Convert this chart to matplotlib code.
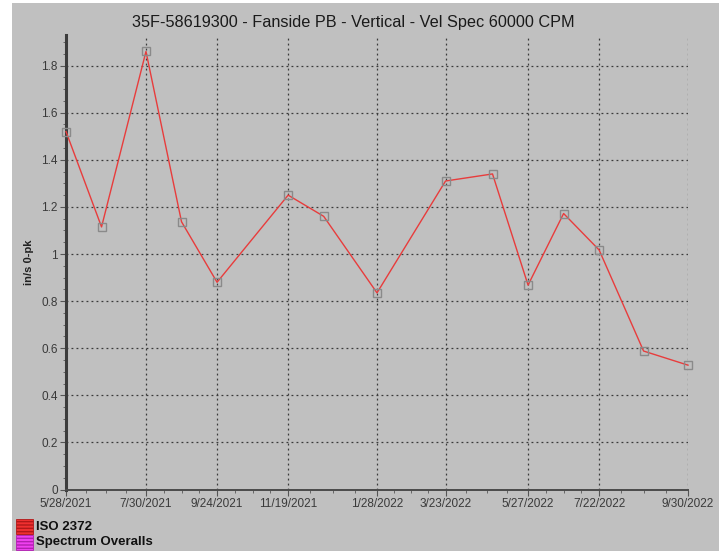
import matplotlib
matplotlib.use("Agg")
import matplotlib.pyplot as plt
import matplotlib.dates as mdates
from matplotlib.patches import Rectangle
import numpy as np

plt.rcParams['font.family'] = ['Liberation Sans', 'DejaVu Sans']
plt.rcParams['hatch.linewidth'] = 1.0

title = "35F-58619300 - Fanside PB - Vertical - Vel Spec 60000 CPM"
ylabel = "in/s 0-pk"

dates = ["2021-05-28", "2021-06-25", "2021-07-30", "2021-08-27", "2021-09-24",
         "2021-11-19", "2021-12-17", "2022-01-28", "2022-03-23", "2022-04-29",
         "2022-05-27", "2022-06-24", "2022-07-22", "2022-08-26", "2022-09-30"]
values = [1.52, 1.115, 1.86, 1.137, 0.88,
          1.25, 1.16, 0.835, 1.31, 1.34,
          0.868, 1.172, 1.017, 0.588, 0.528]

tick_dates = ["2021-05-28", "2021-07-30", "2021-09-24", "2021-11-19", "2022-01-28",
              "2022-03-23", "2022-05-27", "2022-07-22", "2022-09-30"]
tick_labels = ["5/28/2021", "7/30/2021", "9/24/2021", "11/19/2021", "1/28/2022",
               "3/23/2022", "5/27/2022", "7/22/2022", "9/30/2022"]

yticks = [0, 0.2, 0.4, 0.6, 0.8, 1.0, 1.2, 1.4, 1.6, 1.8]
ytick_labels = ["0", "0.2", "0.4", "0.6", "0.8", "1", "1.2", "1.4", "1.6", "1.8"]

legend_labels = ["ISO 2372", "Spectrum Overalls"]
legend_colors = ["#f03030", "#f040f0"]
legend_hatch_colors = ["#b01818", "#b020b0"]

bg = "#c0c0c0"
W, H = 719, 551
fig = plt.figure(figsize=(W / 100, H / 100), dpi=100, facecolor="white")
bgrect = Rectangle((12 / W, 0), 1 - 12 / W, 1 - 3 / H, transform=fig.transFigure,
                   facecolor=bg, edgecolor="none", zorder=-10)
fig.patches.append(bgrect)

ax = fig.add_axes([66 / W, (H - 489.5) / H, 622 / W, 454.5 / H])
ax.set_facecolor(bg)
ax.patch.set_alpha(0)

x = [mdates.datestr2num(d) for d in dates]
xt = [mdates.datestr2num(d) for d in tick_dates]

ax.plot(x, values, color="#e83c3c", lw=1.0, zorder=3, clip_on=False)
ax.plot(x, values, linestyle="none", marker="s", markersize=6, markerfacecolor="none",
        markeredgecolor="#8a8a8a", markeredgewidth=1.0, zorder=4, clip_on=False)

ax.set_xlim(xt[0], xt[-1])
ax.set_ylim(0, 1.93)

ax.set_xticks(xt)
ax.set_xticklabels(tick_labels)
minor = []
for a, b in zip(xt[:-1], xt[1:]):
    for k in (1, 2, 3):
        minor.append(a + (b - a) * k / 4)
ax.set_xticks(minor, minor=True)

ax.set_yticks(yticks)
ax.set_yticklabels(ytick_labels)
ax.set_yticks(np.arange(0, 1.93, 0.05), minor=True)

ax.grid(True, which="major", color="#3a3a3a", linestyle=(0, (1.5, 2.5)), linewidth=0.9)
ax.set_axisbelow(True)

for s in ["top", "right"]:
    ax.spines[s].set_visible(False)
ax.spines["left"].set_color("#3c3c3c")
ax.spines["left"].set_linewidth(2.2)
ax.spines["bottom"].set_color("#4a4a4a")
ax.spines["bottom"].set_linewidth(1.4)

ax.tick_params(axis="both", which="major", direction="out", length=4, width=0.8,
               color="#555555", labelsize=8.5, labelcolor="#3a3a3a", pad=2)
ax.tick_params(axis="both", which="minor", direction="out", length=2.5, width=0.7,
               color="#666666")

ax.set_ylabel(ylabel, fontsize=8, fontweight="bold", color="#202020", labelpad=5)

fig.text(353 / W, 1 - 22 / H, title, ha="center", va="center", fontsize=11.7, color="#1a1a1a")

ys = [519, 535]
for lab, col, hc, y in zip(legend_labels, legend_colors, legend_hatch_colors, ys):
    r = Rectangle((16 / W, 1 - (y + 15) / H), 17 / W, 15 / H, transform=fig.transFigure,
                  facecolor=col, edgecolor=hc, lw=0.6, hatch="-----", zorder=2)
    fig.patches.append(r)
    fig.text(36 / W, 1 - (y + 7.5) / H, lab, ha="left", va="center", fontsize=9.5,
             fontweight="bold", color="#111111")

fig.savefig("out.png", dpi=100, facecolor="white")
